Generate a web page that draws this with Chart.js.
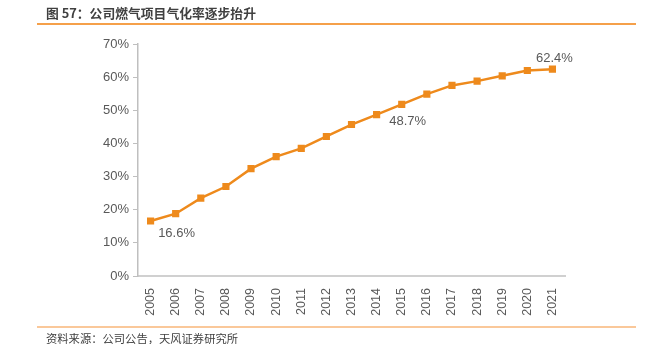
<!DOCTYPE html>
<html>
<head>
<meta charset="utf-8">
<script src="https://cdn.jsdelivr.net/npm/chart.js@4"></script>
<style>
  body { margin: 0; background: #fff; }
  #wrap { position: relative; width: 651px; height: 344px; overflow: hidden; }
  #title { position: absolute; left: 46px; top: 3px; font: bold 12.8px "Noto Sans CJK SC", sans-serif; color: #404040; white-space: nowrap; }
  #topline { position: absolute; left: 37px; top: 23px; width: 599px; height: 2px; background: #F5A04A; }
  #botline { position: absolute; left: 37px; top: 326px; width: 599px; height: 1.5px; background: #FAC89A; }
  #source { position: absolute; left: 46px; top: 329.5px; font: 11.3px "Noto Sans CJK SC", sans-serif; color: #404040; white-space: nowrap; }
  #box { position: absolute; left: 0; top: 0; width: 651px; height: 344px; }
</style>
</head>
<body>
<div id="wrap">
  <div id="box"><canvas id="LineChart"></canvas></div>
  <div id="title">图 57：公司燃气项目气化率逐步抬升</div>
  <div id="topline"></div>
  <div id="botline"></div>
  <div id="source">资料来源：公司公告，天风证券研究所</div>
</div>
<script>
const years = ['2005','2006','2007','2008','2009','2010','2011','2012','2013','2014','2015','2016','2017','2018','2019','2020','2021'];
const gasRate = [16.6, 18.8, 23.5, 27.0, 32.4, 36.0, 38.5, 42.1, 45.7, 48.7, 51.8, 54.9, 57.5, 58.8, 60.4, 62.0, 62.4];
// which points get a value label: [index, dx, dy]
const labelled = [[0, 26, 12], [9, 31, 7], [16, 2, -11]];

const valueLabels = {
  id: 'valueLabels',
  afterDatasetsDraw(chart) {
    const ctx = chart.ctx;
    const meta = chart.getDatasetMeta(0);
    ctx.save();
    ctx.font = '13px "Liberation Sans", Arial, sans-serif';
    ctx.fillStyle = '#595959';
    ctx.textAlign = 'center';
    ctx.textBaseline = 'middle';
    labelled.forEach(l => {
      const pt = meta.data[l[0]];
      ctx.fillText(gasRate[l[0]].toFixed(1) + '%', pt.x + l[1], pt.y + l[2]);
    });
    ctx.restore();
  }
};

var ctx = document.getElementById('LineChart').getContext('2d');
var mychart = new Chart(ctx, {
  type: 'line',
  data: {
    labels: years,
    datasets: [{
      data: gasRate,
      borderColor: '#EE8A1C',
      backgroundColor: '#EE8A1C',
      borderWidth: 2.5,
      pointStyle: 'rect',
      pointRadius: 3.3,
      pointHoverRadius: 3.3,
      tension: 0
    }]
  },
  options: {
    responsive: true,
    maintainAspectRatio: false,
    animation: false,
    layout: { padding: { left: 0, right: 86, top: 44, bottom: 0 } },
    plugins: { legend: { display: false }, tooltip: { enabled: false } },
    scales: {
      x: {
        offset: true,
        grid: { display: false },
        border: { display: true, color: '#d0d0d0', width: 2 },
        ticks: {
          color: '#595959',
          font: { family: '"Liberation Sans", Arial, sans-serif', size: 12.5 },
          minRotation: 90, maxRotation: 90, padding: 4
        },
        afterFit(s) { s.height = 68; }
      },
      y: {
        min: 0, max: 70,
        grid: { display: true, drawOnChartArea: false, drawTicks: true, tickLength: 5, color: '#bfbfbf' },
        border: { display: true, color: '#bfbfbf', width: 1.5 },
        ticks: {
          stepSize: 10,
          color: '#595959',
          font: { family: '"Liberation Sans", Arial, sans-serif', size: 13 },
          padding: 4,
          callback: v => v + '%'
        },
        afterFit(s) { s.width = 138; }
      }
    }
  },
  plugins: [valueLabels]
});
</script>
</body>
</html>
